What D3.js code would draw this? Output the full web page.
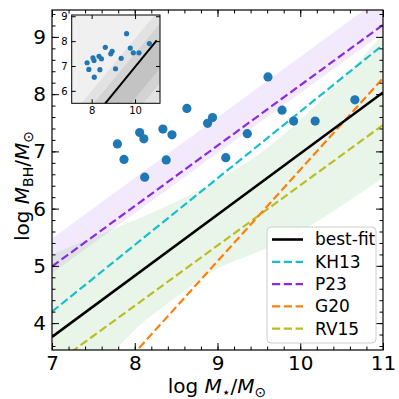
<!DOCTYPE html>
<html>
<head>
<meta charset="utf-8">
<script src="https://cdn.jsdelivr.net/npm/d3@7"></script>
<style>
body { margin: 0; background: #fff; }
text { font-family: "DejaVu Sans", sans-serif; }
</style>
</head>
<body>
<svg id="chart" width="399" height="399"></svg>
<script>

// galaxies: log M* and log M_BH
var logMstar = [7.79, 7.87, 8.06, 8.11, 8.12, 8.34, 8.38, 8.45, 8.63, 8.88, 8.94, 9.10, 9.36, 9.61, 9.78, 9.92, 10.18, 10.66];
var logMbh   = [7.13, 6.86, 7.33, 7.22, 6.55, 7.39, 6.85, 7.29, 7.75, 7.49, 7.59, 6.89, 7.31, 8.30, 7.72, 7.53, 7.53, 7.90];

// relations, value at x = 7 and x = 11
var relX = [7, 11];
var bestFit = [3.76, 8.03];
var kh13 = [4.20, 8.86];
var p23 = [4.99, 9.21];
var g20 = [1.88, 8.28];
var rv15 = [3.25, 7.46];

// shaded bands
var p23Upper = [5.48, 9.71];
var p23Lower = [4.87, 9.07];
var bandX = [7, 7.5, 8, 8.5, 9, 9.5, 10, 10.5, 11];
var bandUpper = [5.20, 5.50, 5.80, 6.12, 6.50, 6.95, 7.55, 8.25, 9.05];
var bandLower = [2.40, 3.10, 3.88, 4.45, 4.95, 5.25, 5.60, 6.05, 6.54];

// inset scatter bands (centre line and half widths)
var insetX = [7, 11.2];
var insetMid = [3.15, 7.56];
var insetWidths = [1.8, 1.2, 0.6];

var legendNames = ["best-fit", "KH13", "P23", "G20", "RV15"];

var svg = d3.select("#chart");

var x = d3.scaleLinear().domain([7, 11]).range([52, 383]);
var y = d3.scaleLinear().domain([3.53, 9.47]).range([350, 10]);

svg.append("clipPath").attr("id", "clipMain")
	.append("rect").attr("x", 52).attr("y", 10).attr("width", 331).attr("height", 340);

var plot = svg.append("g").attr("clip-path", "url(#clipMain)");

// bands
plot.append("path")
	.datum(relX.map(function (d, i) { return [d, p23Lower[i], p23Upper[i]]; }))
	.attr("d", d3.area().x(function (d) { return x(d[0]); }).y0(function (d) { return y(d[1]); }).y1(function (d) { return y(d[2]); }))
	.attr("fill", "#8a2be2").attr("fill-opacity", 0.1);

plot.append("path")
	.datum(bandX.map(function (d, i) { return [d, bandLower[i], bandUpper[i]]; }))
	.attr("d", d3.area().curve(d3.curveMonotoneX).x(function (d) { return x(d[0]); }).y0(function (d) { return y(d[1]); }).y1(function (d) { return y(d[2]); }))
	.attr("fill", "#2ca02c").attr("fill-opacity", 0.1);

var line = d3.line().x(function (d) { return x(d[0]); }).y(function (d) { return y(d[1]); });

var relations = [
	{ vals: bestFit, color: "#000000", dash: null, width: 2.6 },
	{ vals: kh13, color: "#17becf", dash: "8.2,3.6", width: 2.2 },
	{ vals: p23, color: "#8a2be2", dash: "8.2,3.6", width: 2.2 },
	{ vals: g20, color: "#ff7f0e", dash: "8.2,3.6", width: 2.2 },
	{ vals: rv15, color: "#bcbd22", dash: "8.2,3.6", width: 2.2 }
];

relations.slice().reverse().forEach(function (r) {
	plot.append("path")
		.datum(relX.map(function (d, i) { return [d, r.vals[i]]; }))
		.attr("d", line)
		.attr("fill", "none")
		.attr("stroke", r.color)
		.attr("stroke-width", r.width)
		.attr("stroke-dasharray", r.dash);
});

plot.selectAll("circle.pt")
	.data(logMstar)
	.enter()
	.append("circle")
	.attr("class", "pt")
	.attr("cx", function (d) { return x(d); })
	.attr("cy", function (d, i) { return y(logMbh[i]); })
	.attr("r", 4.6)
	.attr("fill", "#1f77b4");

// axes, ticks inward on all four sides
function addAxis(makeAxis, scale, tx, ty, major, minor, labels) {
	var gMin = svg.append("g").attr("transform", "translate(" + tx + "," + ty + ")")
		.call(makeAxis(scale).tickValues(minor).tickSize(-3.5).tickSizeOuter(0).tickFormat(""));
	gMin.select(".domain").remove();
	var gMaj = svg.append("g").attr("transform", "translate(" + tx + "," + ty + ")")
		.call(makeAxis(scale).tickValues(major).tickSize(-7).tickSizeOuter(0).tickPadding(6)
			.tickFormat(labels ? d3.format("d") : ""));
	gMaj.select(".domain").remove();
	gMaj.selectAll("text").attr("font-family", "DejaVu Sans").attr("font-size", 20).attr("fill", "#000");
	gMaj.selectAll("line").attr("stroke", "#000");
	gMin.selectAll("line").attr("stroke", "#000");
}

var xMajor = [7, 8, 9, 10, 11];
var xMinor = d3.range(7, 11.001, 0.2);
var yMajor = [4, 5, 6, 7, 8, 9];
var yMinor = d3.range(3.6, 9.47, 0.2);

addAxis(d3.axisBottom, x, 0, 350, xMajor, xMinor, true);
addAxis(d3.axisTop, x, 0, 10, xMajor, xMinor, false);
addAxis(d3.axisLeft, y, 52, 0, yMajor, yMinor, true);
addAxis(d3.axisRight, y, 383, 0, yMajor, yMinor, false);

svg.append("rect")
	.attr("x", 52).attr("y", 10).attr("width", 331).attr("height", 340)
	.attr("fill", "none").attr("stroke", "#000").attr("stroke-width", 1.2);

// axis labels
var xl = svg.append("text").attr("x", 217).attr("y", 393).attr("text-anchor", "middle").attr("font-size", 20);
xl.append("tspan").text("log ");
xl.append("tspan").attr("font-style", "italic").text("M");
xl.append("tspan").attr("dy", 4).attr("font-size", 14).text("\u22c6");
xl.append("tspan").attr("dy", -4).text("/");
xl.append("tspan").attr("font-style", "italic").text("M");
xl.append("tspan").attr("dy", 4).attr("font-size", 14).text("\u2299");

var yl = svg.append("text").attr("transform", "translate(29,186) rotate(-90)").attr("text-anchor", "middle").attr("font-size", 20);
yl.append("tspan").text("log ");
yl.append("tspan").attr("font-style", "italic").text("M");
yl.append("tspan").attr("dy", 4).attr("font-size", 14).text("BH");
yl.append("tspan").attr("dy", -4).text("/");
yl.append("tspan").attr("font-style", "italic").text("M");
yl.append("tspan").attr("dy", 4).attr("font-size", 14).text("\u2299");

// legend
var lg = svg.append("g");
lg.append("rect")
	.attr("x", 267).attr("y", 227).attr("width", 109).attr("height", 116).attr("rx", 4)
	.attr("fill", "#fff").attr("fill-opacity", 0.8)
	.attr("stroke", "#cccccc").attr("stroke-width", 1);

legendNames.forEach(function (name, i) {
	var ly = 239.5 + i * 22.3;
	var r = relations[i];
	lg.append("line")
		.attr("x1", 272).attr("x2", 303).attr("y1", ly).attr("y2", ly)
		.attr("stroke", r.color).attr("stroke-width", r.width)
		.attr("stroke-dasharray", r.dash);
	lg.append("text").attr("x", 315).attr("y", ly).attr("dy", "0.35em")
		.attr("font-size", 17).text(name);
});

// inset
var ix = d3.scaleLinear().domain([7.08, 11.15]).range([71.7, 160]);
var iy = d3.scaleLinear().domain([5.5, 9.05]).range([103.3, 15]);

svg.append("clipPath").attr("id", "clipInset")
	.append("rect").attr("x", 71.7).attr("y", 15).attr("width", 88.3).attr("height", 88.3);

var inset = svg.append("g").attr("clip-path", "url(#clipInset)");

inset.append("rect")
	.attr("x", 71.7).attr("y", 15).attr("width", 88.3).attr("height", 88.3)
	.attr("fill", "#f0f0f0");

var insetShades = ["#e2e2e2", "#d3d3d3", "#c3c3c3"];
insetWidths.forEach(function (w, k) {
	inset.append("path")
		.datum(insetX.map(function (d, i) { return [d, insetMid[i] - w, insetMid[i] + w]; }))
		.attr("d", d3.area().x(function (d) { return ix(d[0]); }).y0(function (d) { return iy(d[1]); }).y1(function (d) { return iy(d[2]); }))
		.attr("fill", insetShades[k]);
});

inset.append("path")
	.datum(relX.map(function (d, i) { return [d, bestFit[i]]; }))
	.attr("d", d3.line().x(function (d) { return ix(d[0]); }).y(function (d) { return iy(d[1]); }))
	.attr("fill", "none").attr("stroke", "#000").attr("stroke-width", 2);

inset.selectAll("circle")
	.data(logMstar)
	.enter()
	.append("circle")
	.attr("cx", function (d) { return ix(d); })
	.attr("cy", function (d, i) { return iy(logMbh[i]); })
	.attr("r", 2.6)
	.attr("fill", "#1f77b4");

function insetAxis(makeAxis, scale, tx, ty, vals, labels) {
	var g = svg.append("g").attr("transform", "translate(" + tx + "," + ty + ")")
		.call(makeAxis(scale).tickValues(vals).tickSize(-4).tickSizeOuter(0).tickPadding(4)
			.tickFormat(labels ? d3.format("d") : ""));
	g.select(".domain").remove();
	g.selectAll("text").attr("font-family", "DejaVu Sans").attr("font-size", 10).attr("fill", "#000");
	g.selectAll("line").attr("stroke", "#000");
}

insetAxis(d3.axisBottom, ix, 0, 103.3, [8, 10], true);
insetAxis(d3.axisTop, ix, 0, 15, [8, 10], false);
insetAxis(d3.axisLeft, iy, 71.7, 0, [6, 7, 8, 9], true);
insetAxis(d3.axisRight, iy, 160, 0, [6, 7, 8, 9], false);

svg.append("rect")
	.attr("x", 71.7).attr("y", 15).attr("width", 88.3).attr("height", 88.3)
	.attr("fill", "none").attr("stroke", "#000").attr("stroke-width", 1);

</script>
</body>
</html>
